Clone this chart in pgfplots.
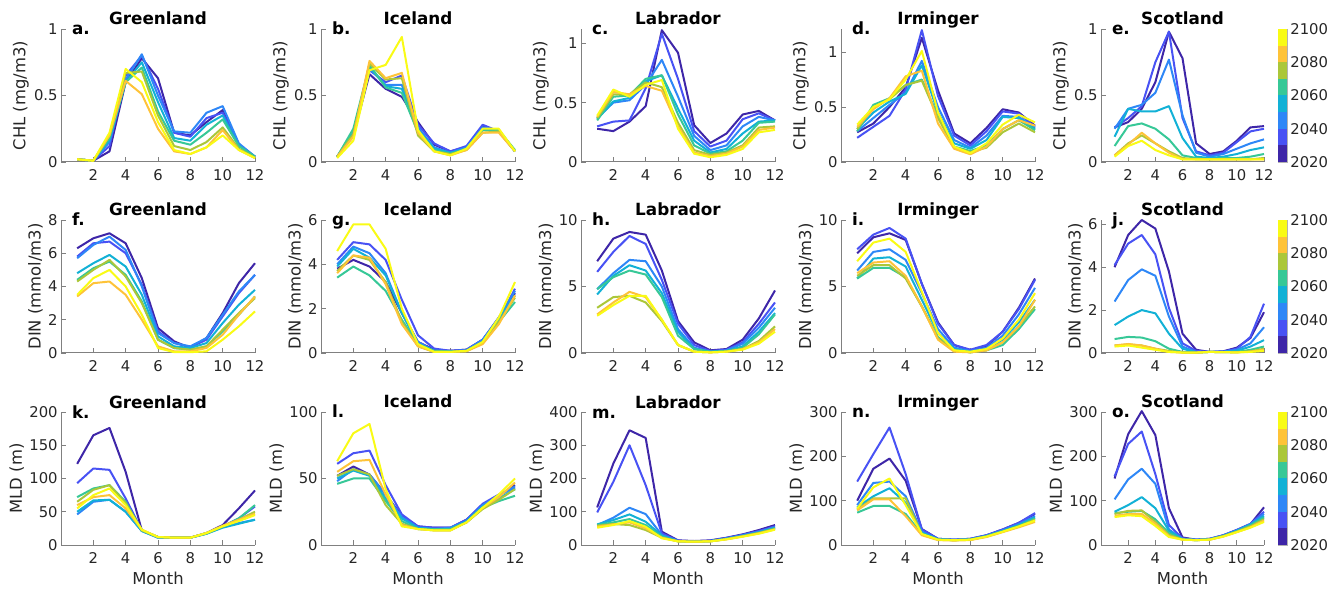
\documentclass[border=0pt]{standalone}
\usepackage{fontspec}
\setmainfont{DejaVu Sans}
\usepackage{pgfplots}
\usepackage{pgfplotstable}
\pgfplotsset{compat=1.18}

\definecolor{c1}{rgb}{0.2422,0.1504,0.6603}
\definecolor{c2}{rgb}{0.2810,0.3228,0.9579}
\definecolor{c3}{rgb}{0.1786,0.5289,0.9682}
\definecolor{c4}{rgb}{0.0689,0.6948,0.8394}
\definecolor{c5}{rgb}{0.2161,0.7843,0.5923}
\definecolor{c6}{rgb}{0.6720,0.7793,0.2227}
\definecolor{c7}{rgb}{0.9970,0.7659,0.2199}
\definecolor{c8}{rgb}{0.9769,0.9839,0.0805}
\definecolor{txt}{rgb}{0.15,0.15,0.15}

\newcommand{\ticksize}{\fontsize{7.4bp}{8.5bp}\selectfont}
\newcommand{\labsize}{\fontsize{8.2bp}{9.5bp}\selectfont}
\newcommand{\titsize}{\bfseries\fontsize{8.4bp}{9.5bp}\selectfont}

% CHL
\pgfplotstableread{
m c1 c2 c3 c4 c5 c6 c7 c8
1 0.02 0.02 0.02 0.02 0.02 0.02 0.02 0.02
2 0.01 0.01 0.01 0.01 0.01 0.01 0.01 0.01
3 0.08 0.12 0.15 0.17 0.18 0.20 0.20 0.22
4 0.60 0.65 0.62 0.60 0.60 0.67 0.61 0.70
5 0.78 0.80 0.81 0.75 0.71 0.68 0.51 0.60
6 0.63 0.55 0.50 0.45 0.38 0.35 0.25 0.30
7 0.22 0.22 0.23 0.18 0.16 0.12 0.08 0.09
8 0.20 0.19 0.22 0.16 0.13 0.09 0.06 0.06
9 0.30 0.33 0.37 0.28 0.22 0.15 0.11 0.11
10 0.39 0.37 0.42 0.35 0.32 0.26 0.24 0.20
11 0.13 0.13 0.14 0.12 0.12 0.10 0.09 0.09
12 0.04 0.04 0.04 0.04 0.04 0.03 0.03 0.03
}\tA
\pgfplotstableread{
m c1 c2 c3 c4 c5 c6 c7 c8
1 0.04 0.04 0.04 0.04 0.04 0.04 0.04 0.03
2 0.20 0.21 0.22 0.22 0.25 0.21 0.19 0.16
3 0.66 0.69 0.70 0.72 0.73 0.74 0.76 0.69
4 0.55 0.60 0.58 0.57 0.56 0.62 0.63 0.73
5 0.49 0.65 0.58 0.55 0.52 0.63 0.67 0.94
6 0.30 0.28 0.26 0.24 0.22 0.20 0.22 0.24
7 0.13 0.14 0.11 0.10 0.09 0.08 0.08 0.08
8 0.08 0.08 0.07 0.07 0.06 0.06 0.05 0.05
9 0.11 0.12 0.11 0.10 0.10 0.09 0.09 0.10
10 0.27 0.28 0.26 0.25 0.24 0.22 0.22 0.25
11 0.23 0.23 0.24 0.24 0.24 0.23 0.22 0.25
12 0.08 0.08 0.08 0.08 0.09 0.08 0.08 0.08
}\tB
\pgfplotstableread{
m c1 c2 c3 c4 c5 c6 c7 c8
1 0.28 0.30 0.37 0.36 0.35 0.37 0.38 0.39
2 0.26 0.34 0.50 0.51 0.55 0.57 0.59 0.61
3 0.34 0.35 0.52 0.54 0.56 0.57 0.57 0.55
4 0.47 0.62 0.65 0.68 0.70 0.67 0.64 0.65
5 1.11 1.08 0.86 0.73 0.73 0.63 0.60 0.69
6 0.92 0.70 0.55 0.45 0.40 0.33 0.30 0.28
7 0.31 0.26 0.22 0.18 0.14 0.10 0.08 0.07
8 0.16 0.13 0.10 0.08 0.07 0.06 0.05 0.04
9 0.24 0.18 0.14 0.11 0.09 0.08 0.07 0.06
10 0.40 0.36 0.30 0.24 0.18 0.14 0.13 0.11
11 0.43 0.41 0.38 0.34 0.33 0.29 0.27 0.25
12 0.35 0.35 0.35 0.35 0.34 0.30 0.29 0.27
}\tC
\pgfplotstableread{
m c1 c2 c3 c4 c5 c6 c7 c8
1 0.27 0.22 0.28 0.30 0.28 0.30 0.32 0.34
2 0.35 0.32 0.40 0.45 0.52 0.50 0.48 0.50
3 0.50 0.42 0.52 0.55 0.58 0.57 0.58 0.57
4 0.68 0.66 0.63 0.62 0.70 0.70 0.78 0.75
5 1.13 1.20 0.92 0.88 0.75 0.74 0.83 1.01
6 0.65 0.60 0.50 0.45 0.42 0.40 0.35 0.45
7 0.26 0.24 0.20 0.17 0.14 0.13 0.12 0.14
8 0.17 0.15 0.13 0.12 0.10 0.09 0.07 0.08
9 0.31 0.28 0.24 0.20 0.15 0.13 0.14 0.17
10 0.48 0.46 0.42 0.41 0.30 0.27 0.30 0.34
11 0.45 0.44 0.41 0.40 0.38 0.35 0.38 0.43
12 0.33 0.32 0.31 0.30 0.29 0.27 0.33 0.36
}\tD
\pgfplotstableread{
m c1 c2 c3 c4 c5 c6 c7 c8
1 0.26 0.26 0.25 0.19 0.12 0.05 0.05 0.04
2 0.30 0.33 0.40 0.40 0.27 0.14 0.13 0.12
3 0.40 0.42 0.43 0.38 0.29 0.20 0.22 0.16
4 0.60 0.75 0.52 0.38 0.25 0.14 0.14 0.09
5 0.98 0.98 0.77 0.42 0.17 0.08 0.07 0.05
6 0.78 0.33 0.35 0.18 0.05 0.03 0.02 0.02
7 0.14 0.08 0.07 0.04 0.03 0.02 0.02 0.02
8 0.06 0.05 0.04 0.03 0.02 0.02 0.02 0.02
9 0.08 0.07 0.06 0.04 0.03 0.02 0.02 0.02
10 0.16 0.15 0.10 0.06 0.03 0.02 0.02 0.02
11 0.26 0.23 0.14 0.09 0.04 0.02 0.02 0.02
12 0.27 0.25 0.17 0.11 0.06 0.03 0.02 0.02
}\tE
% DIN
\pgfplotstableread{
m c1 c2 c3 c4 c5 c6 c7 c8
1 6.3 5.8 5.7 4.8 4.4 4.3 3.4 3.5
2 6.9 6.6 6.5 5.4 5.1 5.0 4.2 4.5
3 7.2 6.7 7.0 5.9 5.5 5.6 4.3 5.0
4 6.6 6.0 6.2 5.2 4.7 4.6 3.5 4.0
5 4.5 4.1 4.0 3.5 3.1 3.0 2.0 2.3
6 1.5 1.3 1.2 1.0 0.8 0.8 0.4 0.3
7 0.7 0.6 0.6 0.4 0.3 0.3 0.1 0.05
8 0.3 0.35 0.4 0.3 0.2 0.2 0.1 0.05
9 0.9 0.8 0.9 0.6 0.4 0.4 0.3 0.1
10 2.4 2.2 2.3 1.8 1.3 1.4 1.1 0.8
11 4.2 3.6 3.7 2.9 2.3 2.4 2.3 1.6
12 5.4 4.7 4.7 3.8 3.4 3.3 3.4 2.5
}\tF
\pgfplotstableread{
m c1 c2 c3 c4 c5 c6 c7 c8
1 3.8 4.2 4.0 3.9 3.4 3.7 3.6 4.6
2 4.2 5.0 4.8 4.7 3.9 4.4 4.4 5.8
3 3.9 4.9 4.5 4.3 3.5 4.2 4.3 5.8
4 3.2 4.2 3.6 3.5 2.8 3.2 3.1 4.7
5 1.8 2.4 1.8 1.8 1.5 1.4 1.3 2.0
6 0.5 0.8 0.5 0.4 0.4 0.3 0.3 0.4
7 0.15 0.2 0.1 0.1 0.1 0.05 0.05 0.05
8 0.1 0.1 0.08 0.08 0.06 0.05 0.05 0.05
9 0.15 0.15 0.12 0.1 0.1 0.08 0.08 0.1
10 0.6 0.6 0.6 0.5 0.5 0.45 0.4 0.5
11 1.6 1.5 1.6 1.5 1.4 1.4 1.3 1.6
12 2.7 2.9 2.8 2.6 2.3 2.5 2.6 3.2
}\tG
\pgfplotstableread{
m c1 c2 c3 c4 c5 c6 c7 c8
1 6.9 6.1 4.8 4.4 4.8 3.4 2.9 2.8
2 8.6 7.6 6.0 5.8 5.7 4.2 3.8 3.6
3 9.1 8.8 7.0 6.6 6.2 4.3 4.6 4.3
4 8.9 8.2 6.9 6.2 5.9 3.8 4.2 4.3
5 6.2 5.5 5.0 4.5 4.2 2.4 2.5 2.5
6 2.4 2.2 1.8 1.6 1.3 0.6 0.6 0.6
7 0.8 0.6 0.4 0.3 0.3 0.1 0.1 0.1
8 0.2 0.15 0.1 0.1 0.1 0.05 0.05 0.05
9 0.3 0.25 0.2 0.15 0.15 0.1 0.1 0.1
10 1.0 0.8 0.7 0.5 0.4 0.3 0.3 0.25
11 2.6 2.2 1.9 1.6 1.4 0.9 0.8 0.7
12 4.7 3.8 3.4 3.0 2.9 2.0 1.8 1.6
}\tH
\pgfplotstableread{
m c1 c2 c3 c4 c5 c6 c7 c8
1 7.5 7.8 6.2 5.6 5.6 5.8 6.0 6.9
2 8.7 8.9 7.6 7.1 6.4 6.6 6.8 8.3
3 9.0 9.4 7.8 7.2 6.4 6.6 6.9 8.6
4 8.5 8.6 7.0 6.5 5.7 5.6 5.8 7.6
5 5.2 5.2 4.5 4.0 3.5 3.5 3.5 4.6
6 2.3 2.2 1.8 1.5 1.2 1.1 1.0 1.5
7 0.6 0.6 0.4 0.3 0.2 0.2 0.1 0.2
8 0.2 0.25 0.15 0.1 0.05 0.05 0.05 0.1
9 0.5 0.6 0.4 0.3 0.2 0.2 0.2 0.3
10 1.6 1.6 1.3 1.0 0.6 0.8 0.8 1.1
11 3.4 3.3 2.9 2.3 1.8 2.0 2.0 2.5
12 5.6 5.5 4.9 4.0 3.3 3.5 4.0 4.5
}\tI
\pgfplotstableread{
m c1 c2 c3 c4 c5 c6 c7 c8
1 4.0 4.1 2.4 1.3 0.65 0.35 0.35 0.3
2 5.5 5.1 3.4 1.7 0.75 0.4 0.42 0.35
3 6.2 5.5 3.9 2.0 0.72 0.35 0.35 0.25
4 5.8 4.6 3.6 1.85 0.55 0.2 0.2 0.15
5 3.8 2.1 1.7 0.9 0.2 0.1 0.05 0.05
6 0.9 0.45 0.3 0.2 0.05 0.02 0.02 0.02
7 0.15 0.1 0.05 0.03 0.02 0.02 0.02 0.02
8 0.05 0.05 0.05 0.05 0.05 0.05 0.05 0.05
9 0.08 0.07 0.06 0.05 0.04 0.04 0.04 0.04
10 0.25 0.2 0.15 0.1 0.05 0.03 0.03 0.03
11 0.7 0.75 0.45 0.3 0.15 0.08 0.06 0.05
12 1.9 2.3 1.2 0.6 0.3 0.2 0.15 0.1
}\tJ
% MLD
\pgfplotstableread{
m c1 c2 c3 c4 c5 c6 c7 c8
1 122 93 46 50 72 65 60 55
2 165 115 65 67 85 83 72 75
3 176 113 68 68 90 90 75 85
4 110 70 50 50 65 63 55 60
5 22 22 21 21 22 22 23 23
6 12 12 11 11 12 12 12 12
7 11 11 11 11 11 11 11 11
8 11 11 11 11 11 11 11 11
9 18 18 17 17 17 18 18 18
10 30 28 27 26 28 28 29 28
11 55 40 33 32 40 38 38 36
12 82 58 38 38 60 50 47 45
}\tK
\pgfplotstableread{
m c1 c2 c3 c4 c5 c6 c7 c8
1 52 61 48 50 46 52 55 63
2 59 69 57 56 50 57 63 84
3 53 71 53 52 50 53 64 91
4 38 45 38 35 33 30 38 42
5 22 23 21 20 18 16 15 14
6 14 14 13 13 12 12 12 12
7 13 13 12 12 12 11 11 11
8 13 13 13 12 12 11 11 11
9 19 19 18 18 17 17 17 17
10 30 31 30 29 28 27 28 28
11 37 38 37 35 33 34 36 38
12 45 43 44 42 37 42 47 50
}\tL
\pgfplotstableread{
m c1 c2 c3 c4 c5 c6 c7 c8
1 113 98 60 62 60 58 55 52
2 245 190 82 75 68 63 62 60
3 345 300 112 92 78 60 68 72
4 322 180 93 70 60 45 50 55
5 40 35 30 28 25 22 22 20
6 14 13 12 12 11 11 11 11
7 12 11 11 10 10 10 10 10
8 14 13 12 12 11 11 11 11
9 22 21 20 19 18 18 17 17
10 32 31 29 28 27 26 26 25
11 45 42 40 38 37 36 35 34
12 60 56 53 52 50 48 47 46
}\tM
\pgfplotstableread{
m c1 c2 c3 c4 c5 c6 c7 c8
1 100 143 90 85 73 80 78 82
2 172 205 140 110 88 105 103 130
3 195 265 143 128 88 105 103 150
4 145 160 110 95 70 105 65 90
5 36 35 30 28 25 24 22 25
6 14 14 13 13 12 12 11 12
7 12 12 12 11 11 11 10 11
8 14 14 13 13 12 12 11 12
9 22 22 21 20 20 19 18 19
10 35 35 33 32 31 30 29 30
11 50 50 47 45 43 42 40 42
12 70 72 65 62 60 57 52 55
}\tN
\pgfplotstableread{
m c1 c2 c3 c4 c5 c6 c7 c8
1 150 155 103 75 72 70 66 63
2 250 228 148 90 75 77 70 67
3 302 256 172 108 77 78 70 65
4 248 160 138 83 58 52 48 43
5 83 45 35 32 27 23 20 18
6 17 15 14 13 13 12 12 12
7 12 12 12 11 11 11 11 11
8 14 14 13 13 13 12 12 12
9 22 22 21 21 20 20 19 19
10 34 34 33 32 31 30 29 29
11 47 48 47 46 44 42 40 39
12 85 75 70 65 62 58 55 52
}\tO

\pgfplotsset{
  panel/.style={
    scale only axis, height=66.5bp, width=97bp,
    anchor=south west,
    xmin=0, xmax=12, ymin=0,
    xtick={2,4,6,8,10,12},
    axis x line*=bottom, axis y line*=left,
    axis line style={draw=black!50, line width=0.5bp},
    tick style={draw=black!50, line width=0.4bp},
    major tick length=2.5bp, tick align=inside,
    clip=false,
    /pgf/number format/assume math mode=true,
    ticklabel style={font=\ticksize, text=txt},
    yticklabel style={/pgf/number format/fixed, inner sep=1.5bp},
    xticklabel style={inner sep=2bp, yshift=-1.5bp},
    label style={font=\labsize, text=txt},
    ylabel style={inner sep=1bp},
    xlabel style={inner sep=1bp, yshift=-1bp},
    every axis title shift=0pt,
    title style={font=\titsize, at={(0.5,1)}, anchor=base, yshift=2bp},
    every axis plot/.append style={line width=1bp, line join=round},
  },
  narrow/.style={width=81.5bp},
  cbar/.style={
    scale only axis, width=4.5bp, height=66.5bp, anchor=south west,
    xmin=0, xmax=1, ymin=2020, ymax=2100,
    xtick=\empty, ytick={2020,2040,2060,2080,2100},
    yticklabel pos=right,
    axis line style={draw=black!30, line width=0.4bp},
    ytick style={draw=none},
    /pgf/number format/assume math mode=true,
    yticklabel style={font=\ticksize, text=txt, /pgf/number format/1000 sep={}, inner sep=1.5bp},
  },
}

\newcommand{\drawlines}[1]{%
  \pgfplotsinvokeforeach{1,...,8}{\addplot[draw=c##1] table[x index=0, y index=##1]{#1};}}
\newcommand{\letter}[1]{\node[anchor=base west, font=\titsize, xshift=2bp, yshift=-3bp] at (rel axis cs:0,1) {#1};}
\newcommand{\cbarfill}{%
  \addplot[fill=c1, draw=none] coordinates {(0,2020) (1,2020) (1,2030) (0,2030)} -- cycle;
  \addplot[fill=c2, draw=none] coordinates {(0,2030) (1,2030) (1,2040) (0,2040)} -- cycle;
  \addplot[fill=c3, draw=none] coordinates {(0,2040) (1,2040) (1,2050) (0,2050)} -- cycle;
  \addplot[fill=c4, draw=none] coordinates {(0,2050) (1,2050) (1,2060) (0,2060)} -- cycle;
  \addplot[fill=c5, draw=none] coordinates {(0,2060) (1,2060) (1,2070) (0,2070)} -- cycle;
  \addplot[fill=c6, draw=none] coordinates {(0,2070) (1,2070) (1,2080) (0,2080)} -- cycle;
  \addplot[fill=c7, draw=none] coordinates {(0,2080) (1,2080) (1,2090) (0,2090)} -- cycle;
  \addplot[fill=c8, draw=none] coordinates {(0,2090) (1,2090) (1,2100) (0,2100)} -- cycle;}

\begin{document}
\begin{tikzpicture}
\path[use as bounding box] (0,0) rectangle (668.5bp,294.5bp);

% ---------- Row 1: CHL ----------
\begin{axis}[panel, at={(30.5bp,213.5bp)}, ymax=1, ytick={0,0.5,1}, ylabel={CHL (mg/m3)}, title={Greenland}]
\drawlines{\tA}\letter{a.}
\end{axis}
\begin{axis}[panel, at={(160.5bp,213.5bp)}, ymax=1, ytick={0,0.5,1}, ylabel={CHL (mg/m3)}, title={Iceland}]
\drawlines{\tB}\letter{b.}
\end{axis}
\begin{axis}[panel, at={(290.5bp,213.5bp)}, ymax=1.12, ytick={0,0.5,1}, ylabel={CHL (mg/m3)}, title={Labrador}]
\drawlines{\tC}\letter{c.}
\end{axis}
\begin{axis}[panel, at={(420.5bp,213.5bp)}, ymax=1.21, ytick={0,0.5,1}, ylabel={CHL (mg/m3)}, title={Irminger}]
\drawlines{\tD}\letter{d.}
\end{axis}
\begin{axis}[panel, narrow, at={(550.5bp,213.5bp)}, ymax=1, ytick={0,0.5,1}, ylabel={CHL (mg/m3)}, title={Scotland}]
\drawlines{\tE}\letter{e.}
\end{axis}
\begin{axis}[cbar, at={(639bp,213.5bp)}]
\cbarfill
\end{axis}

% ---------- Row 2: DIN ----------
\begin{axis}[panel, at={(30.5bp,118bp)}, ymax=8, ytick={0,2,4,6,8}, ylabel={DIN (mmol/m3)}, title={Greenland}]
\drawlines{\tF}\letter{f.}
\end{axis}
\begin{axis}[panel, at={(160.5bp,118bp)}, ymax=6, ytick={0,2,4,6}, ylabel={DIN (mmol/m3)}, title={Iceland}]
\drawlines{\tG}\letter{g.}
\end{axis}
\begin{axis}[panel, at={(290.5bp,118bp)}, ymax=10, ytick={0,5,10}, ylabel={DIN (mmol/m3)}, title={Labrador}]
\drawlines{\tH}\letter{h.}
\end{axis}
\begin{axis}[panel, at={(420.5bp,118bp)}, ymax=10, ytick={0,5,10}, ylabel={DIN (mmol/m3)}, title={Irminger}]
\drawlines{\tI}\letter{i.}
\end{axis}
\begin{axis}[panel, narrow, at={(550.5bp,118bp)}, ymax=6.2, ytick={0,2,4,6}, ylabel={DIN (mmol/m3)}, title={Scotland}]
\drawlines{\tJ}\letter{j.}
\end{axis}
\begin{axis}[cbar, at={(639bp,118bp)}]
\cbarfill
\end{axis}

% ---------- Row 3: MLD ----------
\begin{axis}[panel, at={(30.5bp,22bp)}, ymax=200, ytick={0,50,100,150,200}, ylabel={MLD (m)}, xlabel={Month}, title={Greenland}]
\drawlines{\tK}\letter{k.}
\end{axis}
\begin{axis}[panel, at={(160.5bp,22bp)}, ymax=100, ytick={0,50,100}, ylabel={MLD (m)}, xlabel={Month}, title={Iceland}]
\drawlines{\tL}\letter{l.}
\end{axis}
\begin{axis}[panel, at={(290.5bp,22bp)}, ymax=400, ytick={0,100,200,300,400}, ylabel={MLD (m)}, xlabel={Month}, title={Labrador}]
\drawlines{\tM}\letter{m.}
\end{axis}
\begin{axis}[panel, at={(420.5bp,22bp)}, ymax=300, ytick={0,100,200,300}, ylabel={MLD (m)}, xlabel={Month}, title={Irminger}]
\drawlines{\tN}\letter{n.}
\end{axis}
\begin{axis}[panel, narrow, at={(550.5bp,22bp)}, ymax=300, ytick={0,100,200,300}, ylabel={MLD (m)}, xlabel={Month}, title={Scotland}]
\drawlines{\tO}\letter{o.}
\end{axis}
\begin{axis}[cbar, at={(639bp,22bp)}]
\cbarfill
\end{axis}
\end{tikzpicture}
\end{document}
